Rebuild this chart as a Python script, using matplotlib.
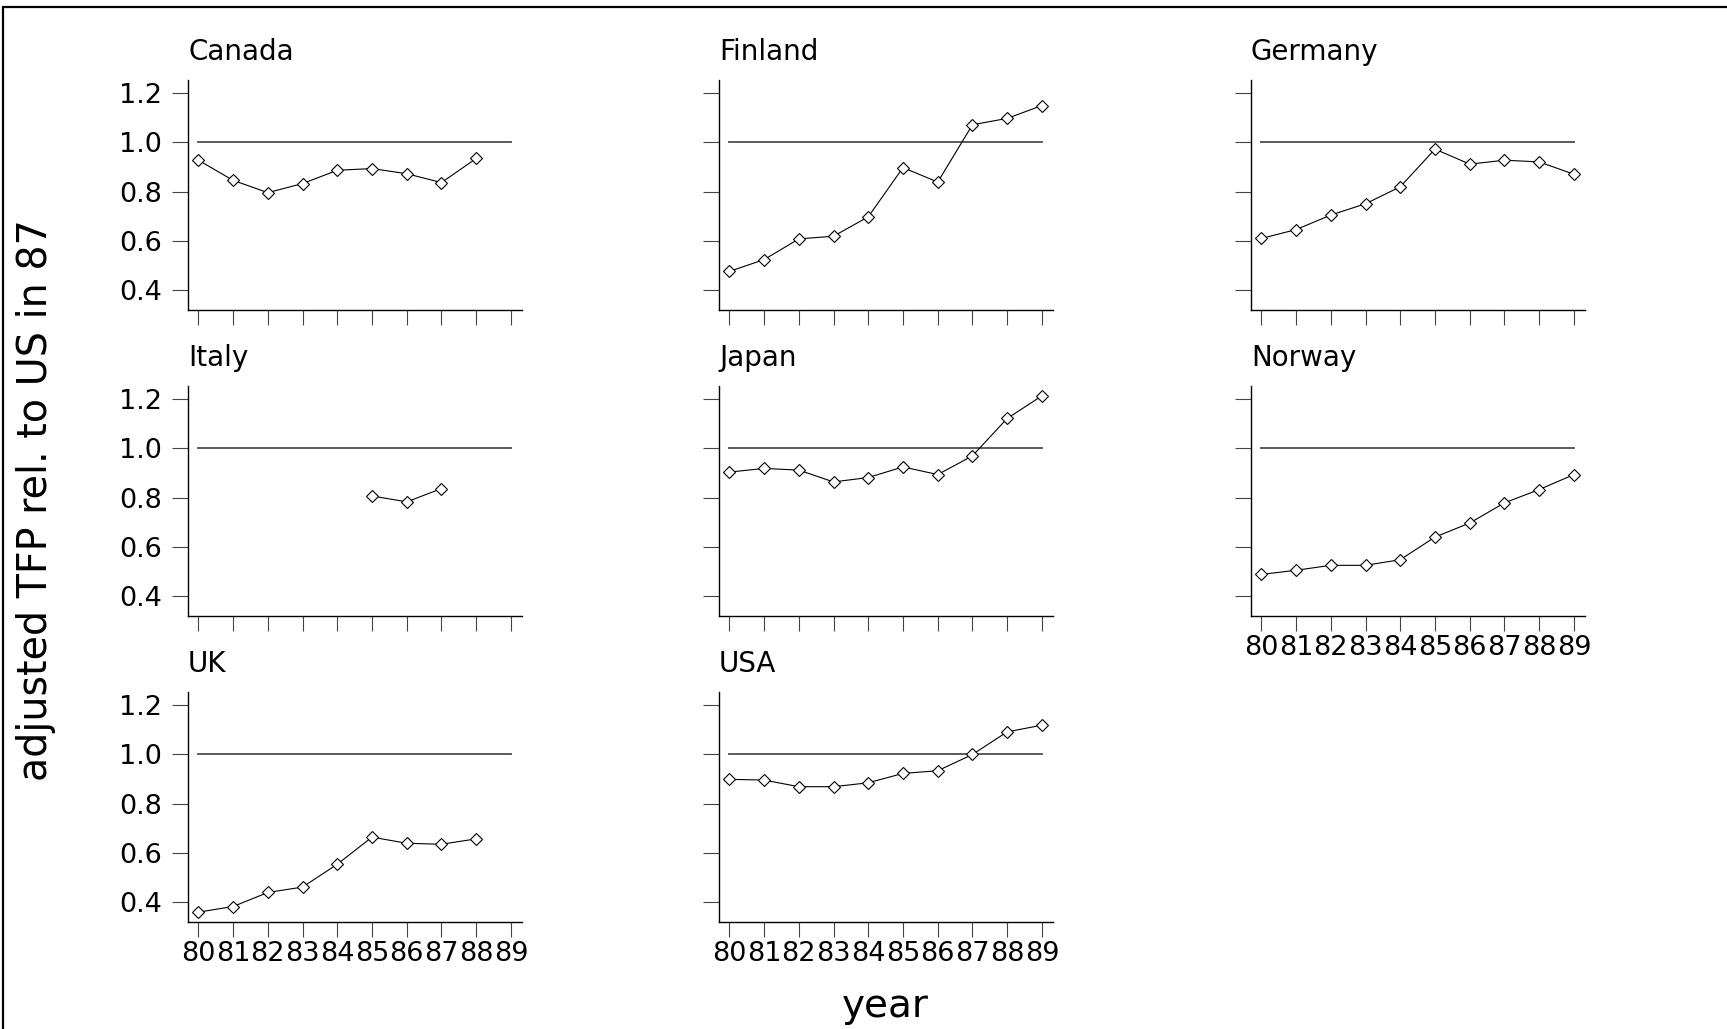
import numpy as np
import matplotlib.pyplot as plt
from matplotlib.patches import Rectangle

nan = np.nan

# === data ===
years = [80, 81, 82, 83, 84, 85, 86, 87, 88, 89]
year_labels = ['80', '81', '82', '83', '84', '85', '86', '87', '88', '89']
y_ticks = [0.4, 0.6, 0.8, 1.0, 1.2]
y_tick_labels = ['0.4', '0.6', '0.8', '1.0', '1.2']

countries = ['Canada', 'Finland', 'Germany', 'Italy', 'Japan', 'Norway', 'UK', 'USA']
canada  = [0.928, 0.846, 0.796, 0.833, 0.887, 0.894, 0.873, 0.837, 0.935, nan]
finland = [0.476, 0.524, 0.608, 0.619, 0.698, 0.898, 0.839, 1.072, 1.098, 1.150]
germany = [0.610, 0.646, 0.705, 0.751, 0.820, 0.973, 0.912, 0.928, 0.921, 0.871]
italy   = [nan, nan, nan, nan, nan, 0.807, 0.783, 0.837, nan, nan]
japan   = [0.904, 0.919, 0.912, 0.864, 0.882, 0.925, 0.894, 0.970, 1.122, 1.214]
norway  = [0.488, 0.505, 0.525, 0.525, 0.548, 0.640, 0.697, 0.779, 0.833, 0.894]
uk      = [0.359, 0.382, 0.439, 0.461, 0.554, 0.664, 0.639, 0.635, 0.657, nan]
usa     = [0.899, 0.896, 0.869, 0.869, 0.885, 0.923, 0.934, 1.000, 1.092, 1.119]
series = [canada, finland, germany, italy, japan, norway, uk, usa]
ref_level = 1.0

# panels that carry x tick labels (bottom of each column)
x_labelled = ['Norway', 'UK', 'USA']

# === layout ===
W, H = 1727, 1029
fig = plt.figure(figsize=(W / 100, H / 100), dpi=100)
fig.patch.set_facecolor('white')

col_left = [188, 719, 1251]      # px
row_top = [80, 386, 692]         # px
ax_w, ax_h = 334, 230

for i, (name, vals) in enumerate(zip(countries, series)):
    r, c = divmod(i, 3)
    ax = fig.add_axes([col_left[c] / W, 1 - (row_top[r] + ax_h) / H, ax_w / W, ax_h / H])
    ax.plot([years[0], years[-1]], [ref_level, ref_level], color='#4d4d4d', lw=1.3)
    ax.plot(years, vals, color='black', lw=0.8, marker='D', ms=6.6,
            mfc='white', mec='black', mew=0.8)
    ax.set_xlim(79.7, 89.32)
    ax.set_ylim(0.319, 1.254)
    ax.set_xticks(years)
    ax.set_yticks(y_ticks)
    ax.set_xticklabels(year_labels if name in x_labelled else [])
    ax.set_yticklabels(y_tick_labels if c == 0 else [])
    for s in ('top', 'right'):
        ax.spines[s].set_visible(False)
    for s in ('left', 'bottom'):
        ax.spines[s].set_linewidth(1.0)
    ax.tick_params(axis='y', length=11.5, width=0.8, color='#444444', pad=7, labelsize=19.5)
    ax.tick_params(axis='x', length=10.5, width=0.8, color='#444444', pad=3, labelsize=19.5)
    ax.set_title(name, loc='left', fontsize=20, pad=14.4)

fig.text(0.5125, 0.012, 'year', ha='center', va='baseline', fontsize=28)
fig.text(0.021, 0.514, 'adjusted TFP rel. to US in 87', rotation=90,
         ha='center', va='center', fontsize=28.5)

# frame round the graph (only left/top edges fall inside the picture)
fig.patches.append(Rectangle((3 / W, -0.2), 2, 1 - 7 / H + 0.2, transform=fig.transFigure,
                             fill=False, ec='black', lw=1.6))

plt.savefig('out.png', dpi=100)
plt.close()
